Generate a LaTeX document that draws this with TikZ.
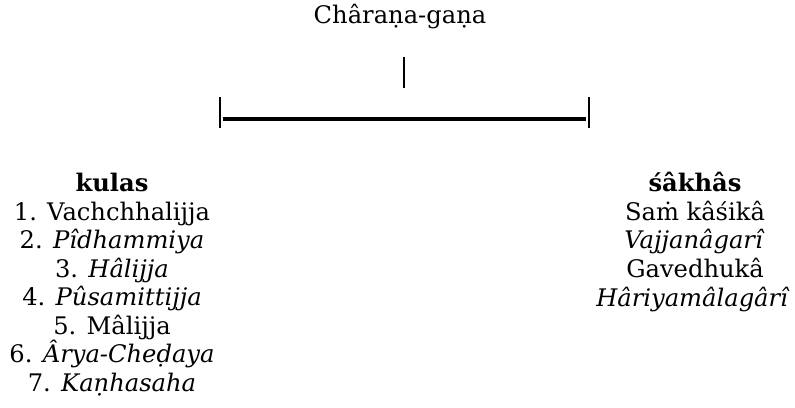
\documentclass[tikz,border=0pt]{standalone}
\usepackage{fontspec}
\setmainfont{DejaVu Serif}
\begin{document}
\begin{tikzpicture}[x=1pt,y=-1pt,
  lbl/.style={anchor=base,inner sep=0pt,font=\fontsize{24.2}{28}\selectfont},
  thinline/.style={line width=2pt},
  thickline/.style={line width=4pt}]
\useasboundingbox (0,0) rectangle (795,407);
\node[lbl] (title) at (400,23) {Châraṇa-gaṇa};
\coordinate (vt) at (403.7,56.7);
\coordinate (vb) at (403.7,87.7);
\draw[thinline] (vt) -- (vb);
\coordinate (lt) at (219.7,97.3);
\coordinate (lb) at (219.7,127.7);
\coordinate (rt) at (589,97.3);
\coordinate (rb) at (589,127.7);
\coordinate (hl) at (222.7,119);
\coordinate (hr) at (585.5,119);
\draw[thinline] (lt) -- (lb);
\draw[thinline] (rt) -- (rb);
\draw[thickline] (hl) -- (hr);
% left column
\node[lbl] (kulas) at (112,191.7) {\textbf{kulas}};
\node[lbl] (k1) at (112,220.2) {1. Vachchhalijja};
\node[lbl] (k2) at (112,248.7) {2. \textit{Pîdhammiya}};
\node[lbl] (k3) at (112,277.2) {3. \textit{Hâlijja}};
\node[lbl] (k4) at (112,305.7) {4. \textit{Pûsamittijja}};
\node[lbl] (k5) at (112,334.2) {5. Mâlijja};
\node[lbl] (k6) at (112,362.7) {6. \textit{Ârya-Cheḍaya}};
\node[lbl] (k7) at (112,391.7) {7. \textit{Kaṇhasaha}};
% right column
\node[lbl] (sakhas) at (695,191.7) {\textbf{śâkhâs}};
\node[lbl] (s1) at (695,220.2) {Saṁ kâśikâ};
\node[lbl] (s2) at (694.5,248.7) {\textit{Vajjanâgarî}};
\node[lbl] (s3) at (695,277.2) {Gavedhukâ};
\node[lbl] (s4) at (693,306.5) {\textit{Hâriyamâlagârî}};
\end{tikzpicture}
\end{document}
